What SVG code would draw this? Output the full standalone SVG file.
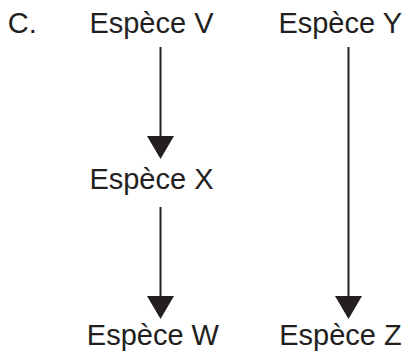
<svg xmlns="http://www.w3.org/2000/svg" width="408" height="354" viewBox="0 0 408 354">
  <defs>
    <style>
      .lbl { font-family: "Liberation Sans", Arial, sans-serif; font-size: 29px; fill: #231f20; }
      .conn { stroke: #231f20; stroke-width: 2; fill: none; }
    </style>
    <marker id="arrow" markerUnits="userSpaceOnUse" markerWidth="24" markerHeight="28" viewBox="0 -14 24 28" refX="0" refY="0" orient="auto">
      <path d="M0,-13.5 L23,0 L0,13.5 z" fill="#231f20"/>
    </marker>
  </defs>
  <rect width="408" height="354" fill="#ffffff"/>
  <text class="lbl" x="7.8" y="33.3">C.</text>
  <g id="connectors">
    <line class="conn" x1="160.5" y1="47" x2="160.5" y2="136" marker-end="url(#arrow)"/>
    <line class="conn" x1="160.5" y1="207" x2="160.5" y2="296" marker-end="url(#arrow)"/>
    <line class="conn" x1="348.5" y1="47" x2="348.5" y2="296" marker-end="url(#arrow)"/>
  </g>
  <g id="especeV"><text class="lbl" x="89.4" y="33.3">Espèce V</text></g>
  <g id="especeY"><text class="lbl" x="278.4" y="33.3">Espèce Y</text></g>
  <g id="especeX"><text class="lbl" x="89.4" y="189.3">Espèce X</text></g>
  <g id="especeW"><text class="lbl" x="86.8" y="344.8">Espèce W</text></g>
  <g id="especeZ"><text class="lbl" x="279.2" y="344.8">Espèce Z</text></g>
</svg>
